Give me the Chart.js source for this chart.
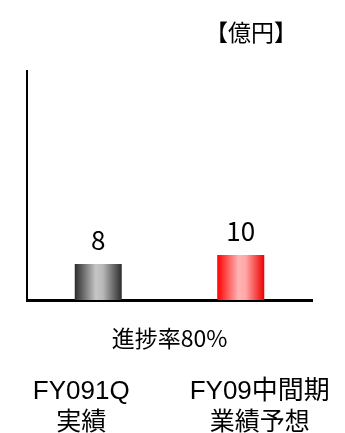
<!DOCTYPE html>
<html lang="ja">
<head>
<meta charset="utf-8">
<script src="https://cdn.jsdelivr.net/npm/chart.js@4/dist/chart.umd.min.js"></script>
<style>
html,body{margin:0;padding:0;background:#fff;}
#wrap{width:345px;height:433px;position:relative;}
</style>
</head>
<body>
<div id="wrap"><canvas id="salesChart"></canvas></div>
<script>
// Data
const categories = [["FY091Q", "実績"], ["FY09中間期", "業績予想"]];
const values = [8, 10];
const unitLabel = "【億円】";
const progressLabel = "進捗率80%";
const yMax = 51;

// bar gradients (left edge -> centre -> right edge)
const barStops = [
  [[0, "#2c2c2c"], [0.45, "#c6c6c6"], [0.6, "#b8b8b8"], [1, "#2c2c2c"]],
  [[0, "#ff0000"], [0.45, "#ffb3b3"], [0.6, "#ffa8a8"], [1, "#ee0000"]]
];
// category label shift from bar centre
const labelShift = [-17, 19];

const JP = '"Noto Sans CJK JP", sans-serif';
const LAT = '"Liberation Sans", "Noto Sans CJK JP", sans-serif';

const gradientBars = {
  id: "gradientBars",
  beforeDatasetsDraw(chart){
    const c = chart.ctx;
    chart.getDatasetMeta(0).data.forEach((bar, i)=>{
      const w = bar.width;
      const g = c.createLinearGradient(bar.x - w/2, 0, bar.x + w/2, 0);
      barStops[i].forEach(s=>g.addColorStop(s[0], s[1]));
      bar.options.backgroundColor = g;
    });
  }
};

const texts = {
  id: "texts",
  afterDraw(chart){
    const c = chart.ctx;
    const area = chart.chartArea;
    c.save();
    c.fillStyle = "#000";
    c.textAlign = "center";

    // values above bars
    c.font = "26px " + JP;
    c.textBaseline = "alphabetic";
    chart.getDatasetMeta(0).data.forEach((bar, i)=>{
      c.fillText(String(values[i]), bar.x, bar.y - 14);
    });

    // unit
    c.font = "23px " + JP;
    c.textBaseline = "middle";
    c.fillText(unitLabel, 251, 32);

    // progress
    c.font = "23px " + JP;
    c.fillText(progressLabel, (area.left + area.right)/2, 338);

    // category names
    const xs = chart.scales.x;
    categories.forEach((lines, i)=>{
      const x = xs.getPixelForValue(i) + labelShift[i];
      c.font = "26px " + LAT;
      c.textBaseline = "alphabetic";
      c.fillText(lines[0], x, 399);
      c.font = "25px " + JP;
      c.textBaseline = "middle";
      c.fillText(lines[1], x, 420);
    });
    c.restore();
  }
};

new Chart(document.getElementById("salesChart"), {
  type: "bar",
  data: {
    labels: categories,
    datasets: [{
      data: values,
      backgroundColor: ["#888", "#f66"],
      borderWidth: 0,
      categoryPercentage: 1,
      barPercentage: 0.33
    }]
  },
  options: {
    responsive: true,
    maintainAspectRatio: false,
    animation: false,
    layout: {padding: {left: 19, right: 33, top: 71, bottom: 125}},
    plugins: {legend: {display: false}, tooltip: {enabled: false}},
    scales: {
      x: {
        ticks: {display: false},
        grid: {display: false},
        border: {display: true, color: "#000", width: 3}
      },
      y: {
        min: 0,
        max: yMax,
        ticks: {display: false},
        grid: {display: false},
        border: {display: true, color: "#000", width: 2}
      }
    }
  },
  plugins: [gradientBars, texts]
});
</script>
</body>
</html>
